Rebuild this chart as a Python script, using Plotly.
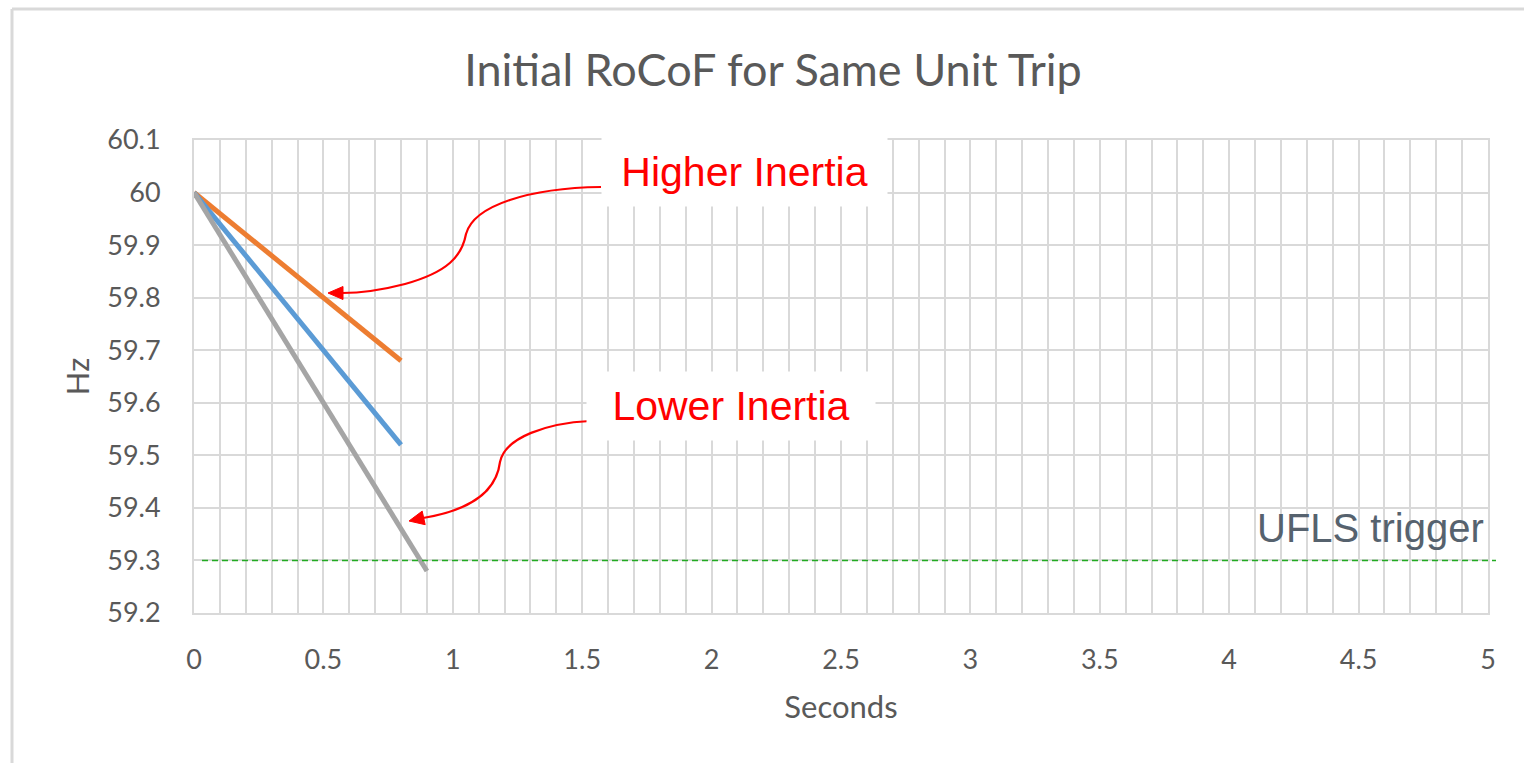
import plotly.graph_objects as go

# ---------------- data ----------------
time_s = [0, 0.1, 0.2, 0.3, 0.4, 0.5, 0.6, 0.7, 0.8]
time_gray_s = [0, 0.1, 0.2, 0.3, 0.4, 0.5, 0.6, 0.7, 0.8, 0.9]
freq_higher = [60.0, 59.96, 59.92, 59.88, 59.84, 59.80, 59.76, 59.72, 59.68]
freq_mid = [60.0, 59.94, 59.88, 59.82, 59.76, 59.70, 59.64, 59.58, 59.52]
freq_lower = [60.0, 59.92, 59.84, 59.76, 59.68, 59.60, 59.52, 59.44, 59.36, 59.28]
ufls_level = 59.3

x_ticks = [0, 0.5, 1, 1.5, 2, 2.5, 3, 3.5, 4, 4.5, 5]
x_tick_labels = ["0", "0.5", "1", "1.5", "2", "2.5", "3", "3.5", "4", "4.5", "5"]
y_ticks = [59.2, 59.3, 59.4, 59.5, 59.6, 59.7, 59.8, 59.9, 60.0, 60.1]
y_tick_labels = ["59.2", "59.3", "59.4", "59.5", "59.6", "59.7", "59.8", "59.9", "60", "60.1"]

# ---------------- layout geometry ----------------
W, H = 1524, 763
ML, MR, MT, MB = 194, 36, 140, 150
X_RANGE = [0, 5]
Y_RANGE = [59.2, 60.1]
PW, PH = W - ML - MR, H - MT - MB


def to_data(px, py):
    x = X_RANGE[0] + (px - ML) / PW * (X_RANGE[1] - X_RANGE[0])
    y = Y_RANGE[1] - (py - MT) / PH * (Y_RANGE[1] - Y_RANGE[0])
    return x, y


def path_from_pixels(cmds):
    out = []
    for c in cmds:
        if isinstance(c, str):
            out.append(c)
        else:
            x, y = to_data(*c)
            out.append(f"{x:.5f},{y:.5f}")
    return " ".join(out)


GRID = "#D9D9D9"
TXT = "#595959"
FONT = "Lato, 'Open Sans', sans-serif"

fig = go.Figure()
fig.add_trace(go.Scatter(x=time_s, y=freq_higher, mode="lines",
                         line=dict(color="#ED7D31", width=5), name="Higher inertia"))
fig.add_trace(go.Scatter(x=time_s, y=freq_mid, mode="lines",
                         line=dict(color="#5B9BD5", width=5), name="Medium inertia"))
fig.add_trace(go.Scatter(x=time_gray_s, y=freq_lower, mode="lines",
                         line=dict(color="#A5A5A5", width=5), name="Lower inertia"))

shapes = []
# chart-area border (top + left visible)
shapes.append(dict(type="line", xref="paper", yref="paper",
                   x0=(12 - ML) / PW, x1=(W + 20 - ML) / PW,
                   y0=(H - MB - 9) / PH, y1=(H - MB - 9) / PH,
                   line=dict(color="#D9D9D9", width=3)))
shapes.append(dict(type="line", xref="paper", yref="paper",
                   x0=(12 - ML) / PW, x1=(12 - ML) / PW,
                   y0=(H - MB - 9) / PH, y1=(H - MB - H - 20) / PH,
                   line=dict(color="#D9D9D9", width=3)))
# UFLS dashed line
shapes.append(dict(type="line", xref="paper", yref="y",
                   x0=(202 - ML) / PW, x1=(1496 - ML) / PW,
                   y0=ufls_level, y1=ufls_level,
                   line=dict(color="#22AA22", width=1.6, dash="6px,4px")))

# curved arrows
hi_path = path_from_pixels(["M", (601, 187), "C", (530, 188), (474, 205), (466, 234),
                            "C", (462, 256), (448, 272), (405, 284),
                            "C", (382, 290), (362, 293), (342, 293)])
lo_path = path_from_pixels(["M", (590, 421), "C", (548, 423), (505, 437), (500, 462),
                            "C", (497, 487), (478, 509), (423, 518)])
for p in (hi_path, lo_path):
    shapes.append(dict(type="path", xref="x", yref="y", path=p,
                       line=dict(color="#FF0000", width=2.2)))
hi_head = path_from_pixels(["M", (328, 293), "L", (343, 286.5), "L", (343, 299.5), "Z"])
lo_head = path_from_pixels(["M", (409, 521), "L", (422.2, 511.1), "L", (425.2, 524.7), "Z"])
for p in (hi_head, lo_head):
    shapes.append(dict(type="path", xref="x", yref="y", path=p,
                       fillcolor="#FF0000", line=dict(color="#FF0000", width=1)))

annotations = []
hx, hy = to_data(744.5, 172)
annotations.append(dict(x=hx, y=hy, xref="x", yref="y", text="Higher Inertia",
                        showarrow=False, bgcolor="white", width=281, height=64, borderpad=2,
                        font=dict(family="'Liberation Sans', Arial, sans-serif", size=41, color="#FF0000")))
lx, ly = to_data(731, 406)
annotations.append(dict(x=lx, y=ly, xref="x", yref="y", text="Lower Inertia",
                        showarrow=False, bgcolor="white", width=284, height=64, borderpad=2,
                        font=dict(family="'Liberation Sans', Arial, sans-serif", size=41, color="#FF0000")))
ux, uy = to_data(1486, 528)
annotations.append(dict(x=ux, y=uy, xref="x", yref="y", text="UFLS trigger",
                        xanchor="right", yanchor="middle", showarrow=False,
                        font=dict(family="'Liberation Sans', Arial, sans-serif", size=40, color="#56626E")))

fig.update_layout(
    width=W, height=H,
    margin=dict(l=ML, r=MR, t=MT, b=MB, autoexpand=False),
    paper_bgcolor="white", plot_bgcolor="white",
    showlegend=False,
    font=dict(family=FONT, color=TXT, size=27),
    title=dict(text="Initial RoCoF for Same Unit Trip", x=773 / W, xanchor="center",
               y=1 - 70 / H, yanchor="middle", font=dict(family=FONT, size=45, color=TXT)),
    xaxis=dict(range=X_RANGE, tickvals=x_ticks, ticktext=x_tick_labels,
               showgrid=True, gridcolor=GRID, gridwidth=2,
               minor=dict(dtick=0.1, tick0=0, showgrid=True, gridcolor=GRID, gridwidth=2),
               showline=True, linecolor=GRID, linewidth=2, mirror=True,
               zeroline=False, ticks="", ticklabelstandoff=22,
               tickfont=dict(size=27, color=TXT),
               title=dict(text="Seconds", standoff=22, font=dict(size=31, color=TXT))),
    yaxis=dict(range=Y_RANGE, tickvals=y_ticks, ticktext=y_tick_labels,
               showgrid=True, gridcolor=GRID, gridwidth=2,
               showline=True, linecolor=GRID, linewidth=2, mirror=True,
               zeroline=False, ticks="", ticklabelstandoff=26,
               tickfont=dict(size=27, color=TXT),
               title=dict(text="Hz", standoff=8, font=dict(size=31, color=TXT))),
    shapes=shapes,
    annotations=annotations,
)

fig.write_html("out.html")
